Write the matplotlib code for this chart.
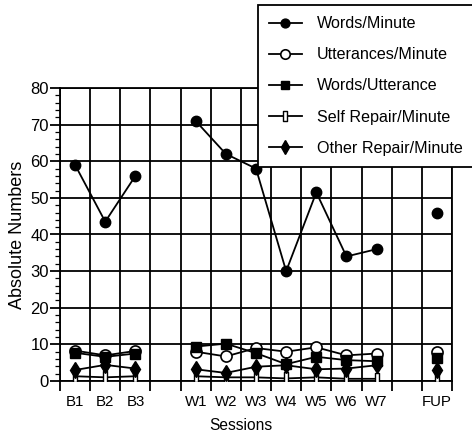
import numpy as np
import matplotlib
matplotlib.use("Agg")
import matplotlib.pyplot as plt
from matplotlib.path import Path

plt.rcParams['font.family'] = ['Liberation Sans', 'DejaVu Sans']

sessions = ['B1', 'B2', 'B3', '', 'W1', 'W2', 'W3', 'W4', 'W5', 'W6', 'W7', '', 'FUP']
nan = np.nan
words_per_min = [59, 43.5, 56, nan, 71, 62, 58, 30, 51.5, 34, 36, nan, 46]
utter_per_min = [8.3, 7, 8.2, nan, 8, 6.7, 9, 8, 9.2, 7, 7.5, nan, 8]
words_per_utt = [7.7, 6.6, 7.5, nan, 9.4, 10.2, 7.6, 4.6, 6.6, 5.7, 5.4, nan, 6.2]
self_repair = [1.3, 1.0, 1.3, nan, 1.3, 1.0, 1.0, 0.7, 1.0, 0.6, 0.6, nan, 1.3]
other_repair = [3.0, 4.4, 3.4, nan, 3.2, 2.2, 3.9, 4.3, 3.2, 3.4, 4.3, nan, 3.0]

series = [
    ('Words/Minute', words_per_min),
    ('Utterances/Minute', utter_per_min),
    ('Words/Utterance', words_per_utt),
    ('Self Repair/Minute', self_repair),
    ('Other Repair/Minute', other_repair),
]

rect = Path([(-0.35, -1), (0.35, -1), (0.35, 1), (-0.35, 1), (-0.35, -1)],
            [Path.MOVETO, Path.LINETO, Path.LINETO, Path.LINETO, Path.CLOSEPOLY])
styles = [
    dict(marker='o', ms=7.5, mfc='black', mec='black'),
    dict(marker='o', ms=8, mfc='white', mec='black', mew=1.2),
    dict(marker='s', ms=7, mfc='black', mec='black'),
    dict(marker=rect, ms=8, mfc='white', mec='black', mew=1.0),
    dict(marker='d', ms=8, mfc='black', mec='black'),
]

fig = plt.figure(figsize=(4.72, 4.36), dpi=100)
ax = fig.add_axes([60/472, 1-381/436, 392/472, 293/436])

x = np.arange(len(sessions)) + 0.5
handles = []
for (name, vals), st in zip(series, styles):
    h, = ax.plot(x, vals, color='black', lw=1.3, label=name, zorder=3, **st)
    handles.append(h)

ax.set_xlim(0, len(sessions))
ax.set_ylim(0, 80)
ax.set_yticks(np.arange(0, 81, 10))
ax.set_yticks(np.arange(0, 81, 2), minor=True)
ax.set_xticks(np.arange(0, len(sessions) + 1))
ax.set_xticklabels([])
ax.set_xticks(x, minor=True)
ax.set_xticklabels(sessions, minor=True)
ax.tick_params(axis='x', which='major', direction='out', length=7, width=1.3)
ax.tick_params(axis='x', which='minor', length=0, pad=10, labelsize=10.8)
ax.tick_params(axis='y', which='major', direction='out', length=7, width=1.3, labelsize=12, pad=1)
ax.tick_params(axis='y', which='minor', direction='out', length=3.5, width=0.9)
ax.grid(True, which='major', color='black', lw=1.3)
ax.set_axisbelow(True)
for s in ax.spines.values():
    s.set_linewidth(1.3)

ax.set_ylabel('Absolute Numbers', fontsize=13)
ax.yaxis.set_label_coords(-0.088, 0.5)
ax.set_xlabel('Sessions', fontsize=11.2)
ax.xaxis.set_label_coords((241-60)/392, -0.125)

leg = fig.legend(handles=handles, loc='upper left',
                 bbox_to_anchor=(258/472, 1-5/436), bbox_transform=fig.transFigure,
                 borderaxespad=0, prop={'size': 11.6}, handlelength=2.0, handletextpad=0.95,
                 labelspacing=1.0, fancybox=False, framealpha=1, edgecolor='black',
                 borderpad=0.7, markerscale=0.85)
leg.get_frame().set_linewidth(1.3)
leg.set_zorder(10)

fig.savefig('out.png', dpi=100)
